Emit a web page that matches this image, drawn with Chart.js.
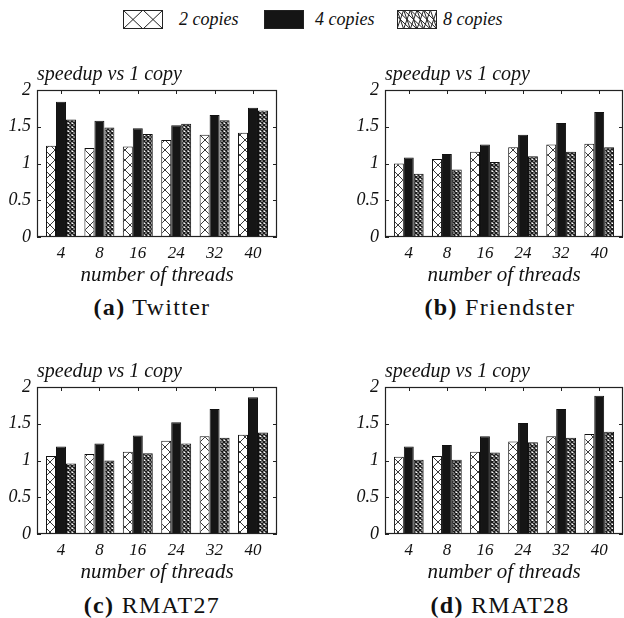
<!DOCTYPE html>
<html>
<head>
<meta charset="utf-8">
<script src="https://cdn.jsdelivr.net/npm/chart.js@4.4.1/dist/chart.umd.min.js"></script>
<style>
  body { margin: 0; width: 624px; height: 618px; background: #fff; position: relative; overflow: hidden; font-family: 'Liberation Serif', serif; color: #111; }
  canvas.pane { position: absolute; }
  .cap { position: absolute; width: 300px; text-align: center; font-size: 24px; line-height: 28px; letter-spacing: 1.3px; }
  .cap b { font-weight: bold; }
  .swatch { position: absolute; top: 10px; }
  .lgtext { position: absolute; top: 8px; font-style: italic; font-size: 18px; line-height: 22px; }
</style>
</head>
<body>
<canvas class="swatch" id="sw0" width="41" height="19" style="left:123px"></canvas>
<div class="lgtext" style="left:179px">2 copies</div>
<canvas class="swatch" id="sw1" width="41" height="19" style="left:264px"></canvas>
<div class="lgtext" style="left:315px">4 copies</div>
<canvas class="swatch" id="sw2" width="41" height="19" style="left:397px"></canvas>
<div class="lgtext" style="left:443px">8 copies</div>

<canvas class="pane" id="cA" width="300" height="245" style="left:0;top:45px"></canvas>
<canvas class="pane" id="cB" width="276" height="245" style="left:348px;top:45px"></canvas>
<canvas class="pane" id="cC" width="300" height="245" style="left:0;top:342px"></canvas>
<canvas class="pane" id="cD" width="276" height="245" style="left:348px;top:342px"></canvas>

<div class="cap" style="left:2px;top:293px"><b>(a)</b> Twitter</div>
<div class="cap" style="left:350px;top:293px"><b>(b)</b> Friendster</div>
<div class="cap" style="left:2px;top:591px"><b>(c)</b> RMAT27</div>
<div class="cap" style="left:350px;top:591px"><b>(d)</b> RMAT28</div>

<script>
// x categories and y ticks
const threads = ['4', '8', '16', '24', '32', '40'];
const yTicks = [0, 0.5, 1, 1.5, 2];
const seriesNames = ['2 copies', '4 copies', '8 copies'];

// speedup vs 1 copy
const twitter2 = [1.24, 1.21, 1.23, 1.32, 1.39, 1.42];
const twitter4 = [1.84, 1.58, 1.48, 1.52, 1.66, 1.76];
const twitter8 = [1.60, 1.49, 1.40, 1.54, 1.59, 1.72];

const friendster2 = [1.00, 1.06, 1.16, 1.22, 1.26, 1.27];
const friendster4 = [1.08, 1.13, 1.26, 1.39, 1.55, 1.70];
const friendster8 = [0.86, 0.92, 1.02, 1.10, 1.16, 1.22];

const rmat27_2 = [1.06, 1.09, 1.12, 1.27, 1.33, 1.35];
const rmat27_4 = [1.19, 1.23, 1.34, 1.52, 1.70, 1.86];
const rmat27_8 = [0.96, 1.00, 1.10, 1.23, 1.31, 1.38];

const rmat28_2 = [1.05, 1.06, 1.12, 1.26, 1.33, 1.36];
const rmat28_4 = [1.19, 1.21, 1.33, 1.51, 1.70, 1.88];
const rmat28_8 = [1.01, 1.01, 1.11, 1.25, 1.31, 1.39];

const FAMILY = "'Liberation Serif', 'Times New Roman', serif";
Chart.defaults.font.family = FAMILY;
Chart.defaults.color = '#111';

function tile(size, lw, bg, fg) {
  const c = document.createElement('canvas');
  c.width = c.height = size;
  const g = c.getContext('2d');
  g.fillStyle = bg;
  g.fillRect(0, 0, size, size);
  g.strokeStyle = fg;
  g.lineWidth = lw;
  g.beginPath();
  g.moveTo(0, 0); g.lineTo(size, size);
  g.moveTo(size, 0); g.lineTo(0, size);
  g.stroke();
  return c;
}

// gnuplot-like frame with inward ticks on all four sides
const framePlugin = {
  id: 'frame',
  beforeDatasetsDraw(chart) {
    const { ctx, chartArea: a, scales: { x, y } } = chart;
    ctx.save();
    ctx.strokeStyle = '#222';
    ctx.lineWidth = 1;
    ctx.beginPath();
    x.ticks.forEach(t => {
      const px = Math.round(x.getPixelForValue(t.value)) + 0.5;
      ctx.moveTo(px, a.top); ctx.lineTo(px, a.top + 4);
      ctx.moveTo(px, a.bottom); ctx.lineTo(px, a.bottom - 4);
    });
    y.ticks.forEach(t => {
      const py = Math.round(y.getPixelForValue(t.value)) + 0.5;
      ctx.moveTo(a.left, py); ctx.lineTo(a.left + 4, py);
      ctx.moveTo(a.right, py); ctx.lineTo(a.right - 4, py);
    });
    ctx.stroke();
    ctx.restore();
  },
  afterDatasetsDraw(chart) {
    const { ctx, chartArea: a } = chart;
    ctx.save();
    ctx.strokeStyle = '#222';
    ctx.lineWidth = 1.2;
    ctx.strokeRect(Math.round(a.left) + 0.5, Math.round(a.top) + 0.5, Math.round(a.width) - 1, Math.round(a.height) - 1);
    ctx.restore();
  }
};

function makePanel(id, padRight, s2, s4, s8) {
  const canvas = document.getElementById(id);
  const ctx = canvas.getContext('2d');
  const pat2 = ctx.createPattern(tile(10, 0.9, '#fff', '#222'), 'repeat');
  const pat8 = ctx.createPattern(tile(4, 1.5, '#fff', '#1a1a1a'), 'repeat');
  const xy = arr => arr.map((v, i) => ({ x: i, y: v }));
  const bar = { borderColor: '#111', borderWidth: 1, borderSkipped: false, categoryPercentage: 0.78, barPercentage: 1 };
  const tickFontX = { family: FAMILY, size: 17, style: 'italic', weight: 'normal' };
  const tickFontY = { family: FAMILY, size: 18, style: 'italic', weight: 'normal' };
  const titleFont = { family: FAMILY, size: 20, style: 'italic', weight: 'normal' };
  const xTitleFont = { family: FAMILY, size: 21, style: 'italic', weight: 'normal' };

  return new Chart(ctx, {
    type: 'bar',
    data: {
      datasets: [
        Object.assign({ label: seriesNames[0], data: xy(s2), backgroundColor: pat2 }, bar),
        Object.assign({ label: seriesNames[1], data: xy(s4), backgroundColor: '#151515' }, bar),
        Object.assign({ label: seriesNames[2], data: xy(s8), backgroundColor: pat8 }, bar)
      ]
    },
    options: {
      responsive: false,
      animation: false,
      layout: { padding: { left: 0, right: padRight, top: 0, bottom: 0 } },
      scales: {
        x: {
          type: 'linear',
          offset: false,
          min: -0.625,
          max: 5.625,
          afterBuildTicks: s => { s.ticks = threads.map((_, i) => ({ value: i })); },
          afterFit: s => { s.height = 53; },
          grid: { display: false, drawTicks: false },
          border: { display: false },
          ticks: { callback: (v, i) => threads[i], font: tickFontX, padding: 6, maxRotation: 0, autoSkip: false },
          title: { display: true, text: 'number of threads', font: xTitleFont, padding: { top: 0, bottom: 2.4 } }
        },
        y: {
          min: 0,
          max: 2,
          afterBuildTicks: s => { s.ticks = yTicks.map(v => ({ value: v })); },
          afterFit: s => { s.width = 37; },
          grid: { display: false, drawTicks: false },
          border: { display: false },
          ticks: { callback: v => String(v), font: tickFontY, padding: 6 }
        }
      },
      plugins: {
        legend: { display: false },
        tooltip: { enabled: false },
        title: {
          display: true,
          text: 'speedup vs 1 copy',
          align: 'start',
          fullSize: false,
          font: titleFont,
          padding: { top: 18, bottom: 3 }
        }
      }
    },
    plugins: [framePlugin]
  });
}

makePanel('cA', 23, twitter2, twitter4, twitter8);
makePanel('cB', 1, friendster2, friendster4, friendster8);
makePanel('cC', 23, rmat27_2, rmat27_4, rmat27_8);
makePanel('cD', 1, rmat28_2, rmat28_4, rmat28_8);

// legend swatches
function swatch(id, kind) {
  const g = document.getElementById(id).getContext('2d');
  const w = 40, h = 19;
  g.fillStyle = kind === 1 ? '#151515' : '#fff';
  g.fillRect(0.5, 0.5, w - 1, h - 1);
  g.strokeStyle = '#222';
  g.lineWidth = 1;
  if (kind !== 1) {
    const step = kind === 0 ? 20 : 6.67;
    g.save();
    g.beginPath();
    g.rect(0.5, 0.5, w - 1, h - 1);
    g.clip();
    g.beginPath();
    for (let x0 = 0; x0 < w; x0 += step) {
      g.moveTo(x0, 0); g.lineTo(x0 + step, h);
      g.moveTo(x0 + step, 0); g.lineTo(x0, h);
      if (kind === 2) { g.moveTo(x0 - step, 0); g.lineTo(x0 + 2 * step, h); }
    }
    g.stroke();
    g.restore();
  }
  g.strokeRect(0.5, 0.5, w - 1, h - 1);
}
swatch('sw0', 0);
swatch('sw1', 1);
swatch('sw2', 2);
</script>
</body>
</html>
